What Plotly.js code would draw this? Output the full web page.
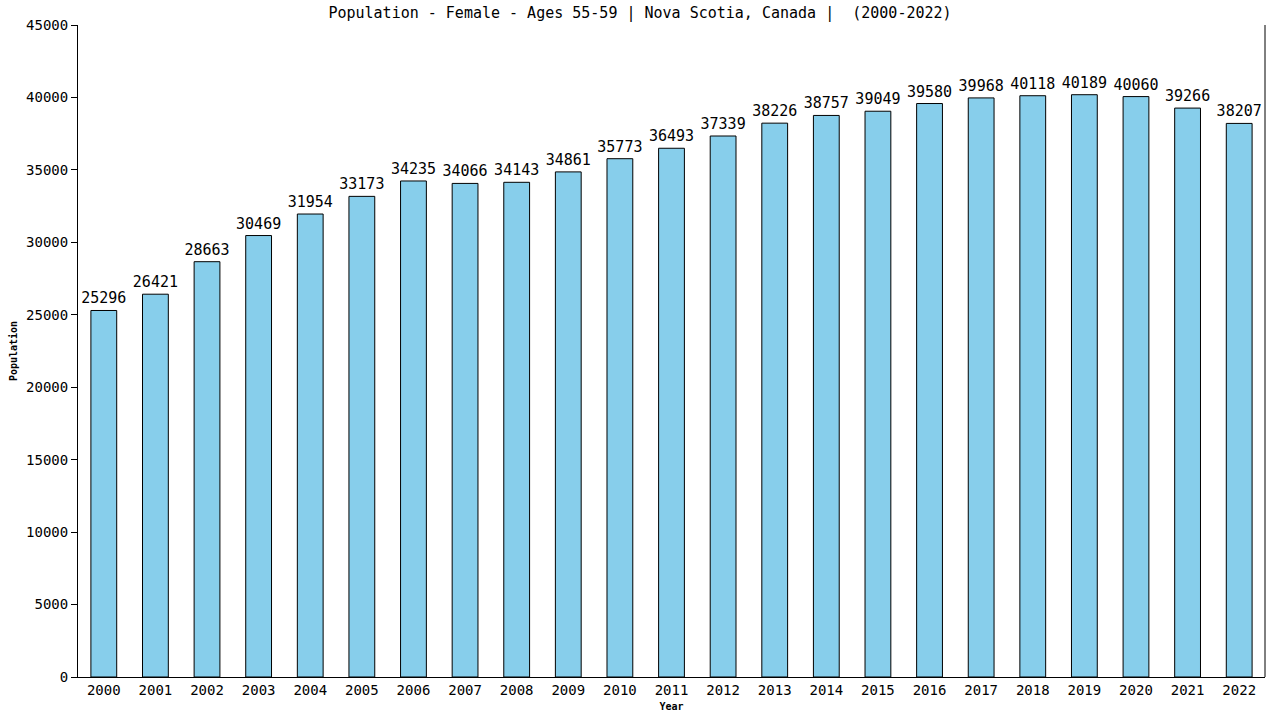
<!DOCTYPE html>
<html>
<head>
<meta charset="utf-8">
<script src="https://cdn.plot.ly/plotly-3.0.1.min.js"></script>
<style>html,body{margin:0;padding:0;background:#fff;}#chart{width:1280px;height:720px;}</style>
</head>
<body>
<div id="chart"></div>
<script>
const years = ["2000","2001","2002","2003","2004","2005","2006","2007","2008","2009","2010","2011","2012","2013","2014","2015","2016","2017","2018","2019","2020","2021","2022"];
const population = [25296,26421,28663,30469,31954,33173,34235,34066,34143,34861,35773,36493,37339,38226,38757,39049,39580,39968,40118,40189,40060,39266,38207];
const yTicks = [0,5000,10000,15000,20000,25000,30000,35000,40000,45000];

const mono = "DejaVu Sans Mono, monospace";
const trace = {
  type: "bar",
  x: years,
  y: population,
  text: population.map(String),
  textposition: "outside",
  constraintext: "none",
  cliponaxis: false,
  textfont: {family: mono, size: 15, color: "#000"},
  marker: {color: "#87CEEB", line: {color: "#000", width: 1}},
  hoverinfo: "x+y"
};
const layout = {
  width: 1280, height: 720,
  margin: {l: 78, r: 15, t: 25, b: 43},
  paper_bgcolor: "#fff", plot_bgcolor: "#fff",
  bargap: 0.5,
  showlegend: false,
  title: {text: "Population - Female - Ages 55-59 | Nova Scotia, Canada |  (2000-2022)", x: 0.5, xanchor: "center", y: 0.99, yanchor: "top", font: {family: mono, size: 15, color: "#000"}},
  xaxis: {
    type: "category",
    showline: true, linecolor: "#000", linewidth: 1,
    ticks: "", showgrid: false, zeroline: false,
    tickfont: {family: mono, size: 14, color: "#000"},
    title: {text: "<b>Year</b>", font: {family: mono, size: 10, color: "#000"}, standoff: 6}
  },
  yaxis: {
    range: [0, 45000],
    tickvals: yTicks,
    ticktext: yTicks.map(String),
    showline: true, linecolor: "#000", linewidth: 1,
    ticks: "outside", ticklen: 6, tickcolor: "#000",
    showgrid: false, zeroline: false,
    tickfont: {family: mono, size: 14, color: "#000"},
    title: {text: "<b>Population</b>", font: {family: mono, size: 10, color: "#000"}, standoff: 6}
  },
  shapes: [{type: "line", xref: "paper", yref: "paper", x0: 1, x1: 1, y0: 0, y1: 1, line: {color: "#000", width: 1}}]
};
Plotly.newPlot("chart", [trace], layout, {displayModeBar: false, staticPlot: true});
</script>
</body>
</html>
